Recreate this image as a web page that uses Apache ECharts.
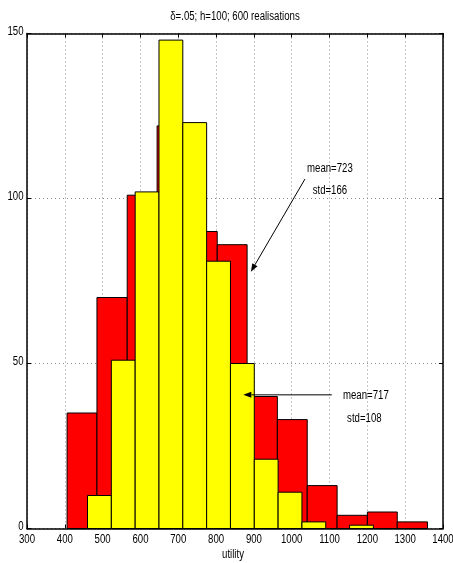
<!DOCTYPE html>
<html>
<head>
<meta charset="utf-8">
<script src="https://cdn.jsdelivr.net/npm/echarts@6/dist/echarts.min.js"></script>
<style>
  html, body { margin: 0; padding: 0; background: #fff; }
  #chart { width: 453px; height: 563px; }
</style>
</head>
<body>
<div id="chart"></div>
<script>
// Histogram of utility over 600 realisations (delta=.05, h=100)
const FONT = '"Liberation Sans", Arial, Helvetica, sans-serif';
const FONT_SIZE = 12.5;
const NARROW = 0.77;   // horizontal squeeze for the condensed lettering

// Wider-spread run (red): bin edges and counts
const redEdges  = [406, 485, 565, 644, 723, 803, 882, 962, 1041, 1120, 1200, 1279, 1359];
const redCounts = [35, 70, 101, 122, 90, 86, 40, 33, 13, 4, 5, 2];

// Narrower run (yellow): bin edges and counts
const yellowEdges  = [460, 523, 586, 649, 712, 775, 838, 901, 964, 1027, 1090, 1153, 1216];
const yellowCounts = [10, 51, 102, 148, 123, 81, 50, 21, 11, 2, 0, 1];

const xTicks = [300, 400, 500, 600, 700, 800, 900, 1000, 1100, 1200, 1300, 1400];
const yTicks = [0, 50, 100, 150];

const titleText = 'δ=.05; h=100; 600 realisations';
const xName = 'utility';

// Annotations: label lines with their anchors (utility, count), arrow from -> to
const notes = [
  { lines: ['mean=723', 'std=166'], at: [[1101, 109.1], [1101, 102.5]], from: [1035, 105.9], to: [892, 77.8] },
  { lines: ['mean=717', 'std=108'], at: [[1196, 40.3], [1192, 33.2]], from: [1106, 40.5], to: [872, 40.5] }
];

function binData(edges, counts) {
  return counts.map((c, i) => [edges[i], edges[i + 1], c]);
}

function renderBin(color) {
  return function (params, api) {
    const x0 = api.value(0), x1 = api.value(1), h = api.value(2);
    if (h <= 0) return null;
    const p0 = api.coord([x0, h]);
    const p1 = api.coord([x1, 0]);
    return {
      type: 'rect',
      shape: { x: p0[0], y: p0[1], width: p1[0] - p0[0], height: p1[1] - p0[1] },
      style: { fill: color, stroke: '#000', lineWidth: 1 }
    };
  };
}

const chart = echarts.init(document.getElementById('chart'), null, { renderer: 'canvas' });

const frameLine = { show: true, onZero: false, lineStyle: { color: '#000', width: 1.5 } };
const innerTick = { show: true, inside: true, length: 4, lineStyle: { color: '#000' } };
const dotted = { show: true, lineStyle: { color: '#8a8a8a', type: [1, 3], width: 1 } };

chart.setOption({
  animation: false,
  backgroundColor: '#fff',
  grid: { left: 27, right: 10, top: 33.5, bottom: 34.5, outerBoundsMode: 'none', containLabel: false },
  xAxis: [{
    type: 'value', min: xTicks[0], max: xTicks[xTicks.length - 1], interval: 100,
    axisLine: frameLine, axisTick: innerTick, axisLabel: { show: false }, splitLine: dotted
  }, {
    type: 'value', position: 'top', min: xTicks[0], max: xTicks[xTicks.length - 1], interval: 100,
    axisLine: frameLine, axisTick: innerTick, axisLabel: { show: false }, splitLine: { show: false }
  }],
  yAxis: [{
    type: 'value', min: yTicks[0], max: yTicks[yTicks.length - 1], interval: 50,
    axisLine: frameLine, axisTick: innerTick, axisLabel: { show: false }, splitLine: dotted
  }, {
    type: 'value', position: 'right', min: yTicks[0], max: yTicks[yTicks.length - 1], interval: 50,
    axisLine: frameLine, axisTick: innerTick, axisLabel: { show: false }, splitLine: { show: false }
  }],
  series: [{
    type: 'custom', name: 'red', xAxisIndex: 0, yAxisIndex: 0,
    renderItem: renderBin('#ff0000'),
    encode: { x: [0, 1], y: 2 },
    data: binData(redEdges, redCounts), z: 2
  }, {
    type: 'custom', name: 'yellow', xAxisIndex: 0, yAxisIndex: 0,
    renderItem: renderBin('#ffff00'),
    encode: { x: [0, 1], y: 2 },
    data: binData(yellowEdges, yellowCounts), z: 3
  }]
});

// Condensed text helper
function label(s, x, y, align) {
  return {
    type: 'text', z: 10, x: x, y: y, scaleX: NARROW, scaleY: 1,
    style: {
      text: s, fill: '#000', font: FONT_SIZE + 'px ' + FONT,
      align: align || 'center', verticalAlign: 'middle'
    }
  };
}

const toPx = v => chart.convertToPixel({ gridIndex: 0 }, v);
const graphics = [];

const rect = chart.getModel().getComponent('grid', 0).coordinateSystem.getRect();
const cx = rect.x + rect.width / 2;
const bottom = rect.y + rect.height;

// Title
graphics.push(label(titleText, cx, 16.5));

// Tick labels
xTicks.forEach(v => {
  const p = toPx([v, 0]);
  graphics.push(label(String(v), p[0], bottom + 11.5));
});
yTicks.forEach(v => {
  const p = toPx([xTicks[0], v]);
  graphics.push(label(String(v), p[0] - 3.5, p[1] - 1.5, 'right'));
});

// Axis name
graphics.push(label(xName, cx - 2, bottom + 26));

// Arrows and their labels
notes.forEach(n => {
  const a = toPx(n.from), b = toPx(n.to);
  const ang = Math.atan2(b[1] - a[1], b[0] - a[0]);
  const L = 8, W = 3;
  const bx = b[0] - L * Math.cos(ang), by = b[1] - L * Math.sin(ang);
  const nx = -Math.sin(ang) * W, ny = Math.cos(ang) * W;
  graphics.push({
    type: 'line', z: 10,
    shape: { x1: a[0], y1: a[1], x2: bx, y2: by },
    style: { stroke: '#000', lineWidth: 1 }
  });
  graphics.push({
    type: 'polygon', z: 10,
    shape: { points: [[b[0], b[1]], [bx + nx, by + ny], [bx - nx, by - ny]] },
    style: { fill: '#000' }
  });
  n.lines.forEach((s, i) => {
    const t = toPx(n.at[i]);
    graphics.push(label(s, t[0], t[1]));
  });
});

chart.setOption({ graphic: graphics });
</script>
</body>
</html>
